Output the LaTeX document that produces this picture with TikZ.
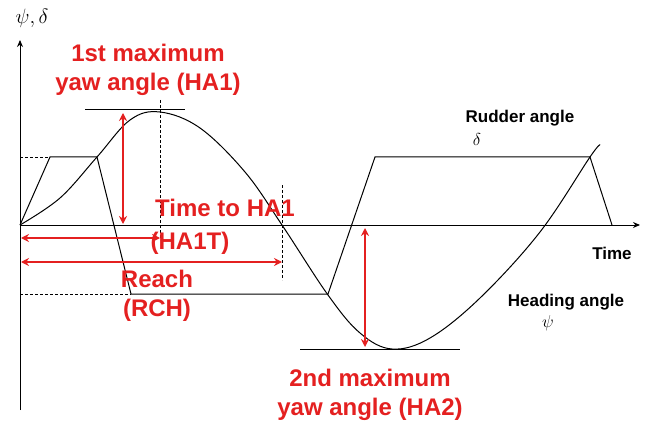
\documentclass[tikz,border=0pt]{standalone}
\usepackage{fontspec}
\setmainfont{Liberation Sans}
\usetikzlibrary{arrows.meta}
\definecolor{myred}{RGB}{228,32,32}
\begin{document}
\begin{tikzpicture}[x=1pt,y=-1pt,
  ax/.style={line width=1pt,-{Stealth[length=7pt,width=6pt]}},
  ln/.style={line width=1pt},
  dsh/.style={line width=0.8pt,dash pattern=on 3pt off 2pt},
  rarr/.style={myred,line width=2.2pt,{Stealth[length=8pt,width=8pt]}-{Stealth[length=8pt,width=8pt]}},
  rtxt/.style={text=myred,font=\fontsize{24}{29}\selectfont\bfseries,align=center,inner sep=0pt},
  btxt/.style={font=\fontsize{17}{19}\selectfont\bfseries}]
\useasboundingbox (0,0) rectangle (648,441);
\coordinate (o) at (20,225);
\coordinate (ytop) at (20,40);
\coordinate (ybot) at (20,410);
\coordinate (xend) at (640,225);
\draw[ax] (ybot) -- (ytop);
\draw[ax] (o) -- (xend);
\node[font=\fontsize{20}{22}\selectfont] (yl) at (32,18) {$\psi,\delta$};
\node[btxt] (tl) at (612,253) {Time};
% rudder
\coordinate (r1) at (50,157); \coordinate (r2) at (97,157);
\coordinate (r3) at (131,294); \coordinate (r4) at (328,294);
\coordinate (r5) at (375,157); \coordinate (r6) at (590,157);
\coordinate (r7) at (612,225);
\draw[ln] (o) -- (r1) -- (r2) -- (r3) -- (r4) -- (r5) -- (r6) -- (r7);
\draw[dsh] (20,157) -- (r1);
\draw[dsh] (20,294) -- (r3);
% heading
\draw[ln] plot[smooth,tension=0.6] coordinates {(20,225) (60,198) (97,157) (130,120) (160,112) (200,128) (245,172) (282,225) (328,295) (360,333) (392,349) (430,338) (480,298) (540,232) (590,157) (600,145)};
\draw[ln] (85,110) -- (185,110);
\draw[ln] (300,349) -- (460,349);
\draw[dsh] (160,100) -- (160,240);
\draw[dsh] (282,185) -- (282,280);
% red arrows
\draw[rarr] (123,113) -- (123,224);
\draw[rarr] (365,228) -- (365,347);
\draw[rarr] (21,238) -- (160,238);
\draw[rarr] (21,262) -- (282,262);
\node[rtxt] (h1) at (148,70) {1st maximum\\yaw angle (HA1)};
\node[rtxt] (t1) at (225,208) {Time to HA1};
\node[rtxt] (t2) at (190,243) {(HA1T)};
\node[rtxt] (rc) at (157,296) {Reach\\(RCH)};
\node[rtxt] (h2) at (370,395) {2nd maximum\\yaw angle (HA2)};
\node[btxt] (ra) at (520,118) {Rudder angle};
\node[font=\fontsize{16}{18}\selectfont] (d) at (477,140) {$\delta$};
\node[btxt] (ha) at (566,302) {Heading angle};
\node[font=\fontsize{18}{20}\selectfont] (p) at (548,323) {$\psi$};
\end{tikzpicture}
\end{document}
